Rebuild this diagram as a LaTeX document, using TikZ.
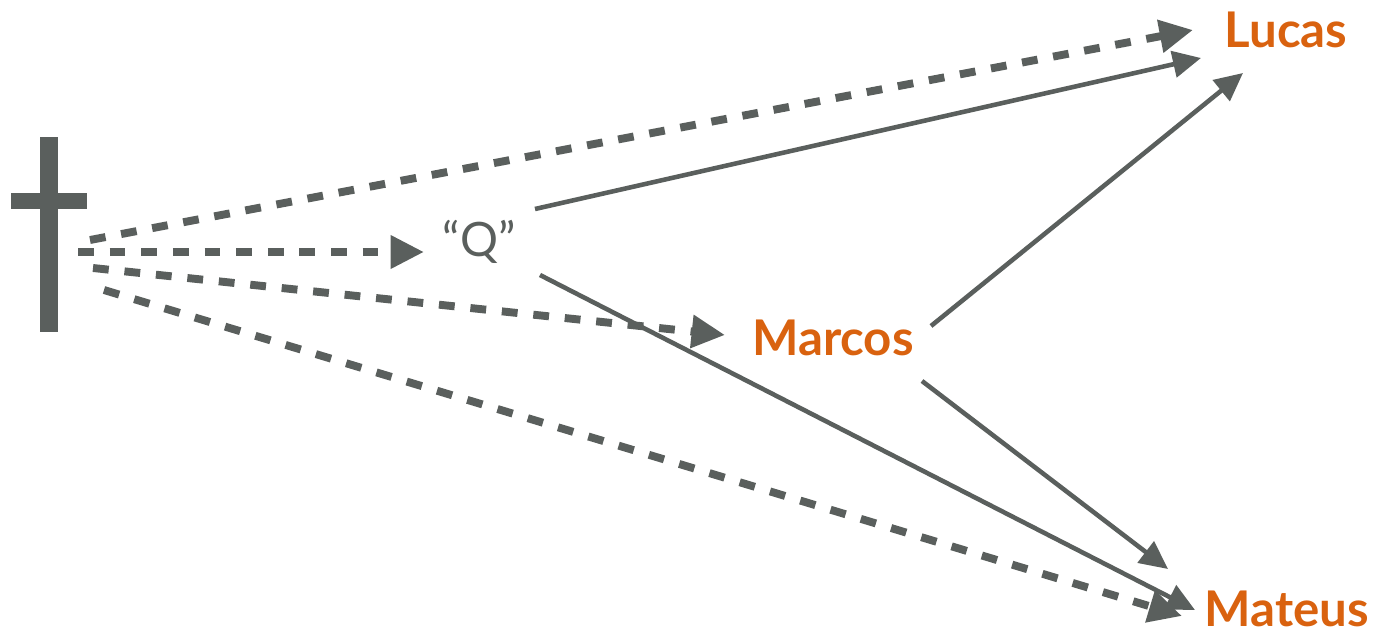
\documentclass[tikz,border=0pt]{standalone}
\usepackage{fontspec}
\setmainfont{Lato}
\usepackage{tikz}
\usetikzlibrary{arrows.meta}
\definecolor{grigio}{HTML}{5A5F5D}
\definecolor{arancio}{HTML}{D9620F}

\begin{document}
\begin{tikzpicture}[x=0.02cm, y=-0.02cm,
  vangelo/.style={font=\fontsize{28}{30}\selectfont\bfseries, text=arancio, anchor=base, inner sep=0pt},
  fonte/.style={grigio, line width=4.5pt, dash pattern=on 9pt off 9pt, -{Triangle[length=19pt,width=18pt]}},
  dipende/.style={grigio, line width=2.6pt, -{Triangle[length=16pt,width=15pt]}}]
\useasboundingbox (0,0) rectangle (1374,636);
%----- croce -----
\fill[grigio] (40,137) rectangle (58,332);
\fill[grigio] (11,193) rectangle (87,209);

%----- nomi -----
\node[vangelo] (lucas) at (1286,47) {Lucas};
\node[vangelo] (marcos) at (833,355) {Marcos};
\node[vangelo] (mateus) at (1287,626) {Mateus};
\node[font=\fontsize{27}{30}\selectfont, text=grigio, anchor=base, inner sep=0pt] (q) at (479,256) {“Q”};

% punti di partenza e di arrivo
\coordinate (c1) at (90,240);   \coordinate (lucas-a) at (1193,30);
\coordinate (c2) at (78,252);   \coordinate (q-in) at (424,252);
\coordinate (c3) at (93,268);   \coordinate (marcos-in) at (725,335);
\coordinate (c4) at (104,290);  \coordinate (mateus-a) at (1182,616);
\coordinate (q-out1) at (535,209);  \coordinate (lucas-b) at (1201,58);
\coordinate (q-out2) at (540,275);  \coordinate (mateus-b) at (1195,610);
\coordinate (marcos-out1) at (931,326); \coordinate (lucas-c) at (1243,73);
\coordinate (marcos-out2) at (922,381); \coordinate (mateus-c) at (1168,569);

%----- tradizione orale (tratteggiata) -----
\draw[fonte] (c1) -- (lucas-a);
\draw[fonte] (c2) -- (q-in);
\draw[fonte] (c3) -- (marcos-in);
\draw[fonte] (c4) -- (mateus-a);

%----- fonti scritte -----
\draw[dipende] (q-out1) -- (lucas-b);
\draw[dipende] (q-out2) -- (mateus-b);
\draw[dipende] (marcos-out1) -- (lucas-c);
\draw[dipende] (marcos-out2) -- (mateus-c);
\end{tikzpicture}
\end{document}
